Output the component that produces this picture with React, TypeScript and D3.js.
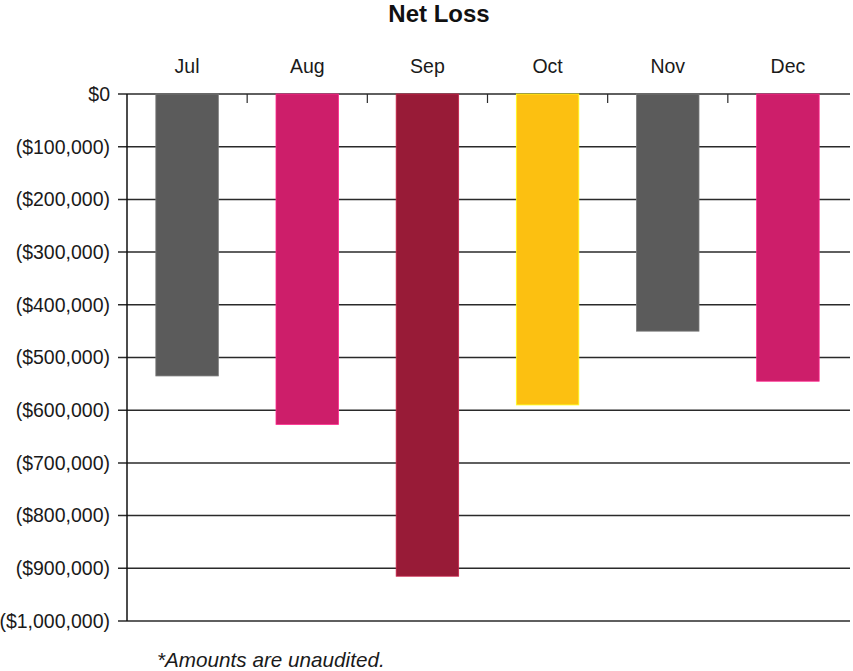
import React from "react";
import * as d3 from "d3";

const months = ["Jul", "Aug", "Sep", "Oct", "Nov", "Dec"];
const netLoss = [-535000, -627000, -915000, -590000, -450000, -545000];
const barColors = ["#5b5b5b", "#cd1e6a", "#981b37", "#fcc011", "#5b5b5b", "#cd1e6a"];
const yTicks = [0, -100000, -200000, -300000, -400000, -500000, -600000, -700000, -800000, -900000, -1000000];
const title = "Net Loss";
const footnote = "*Amounts are unaudited.";

const W = 853;
const H = 671;
const left = 127;
const right = 848;
const top = 94;
const bottom = 621;

function fmt(v: number): string {
  if (v === 0) return "$0";
  return "($" + d3.format(",")(Math.abs(v)) + ")";
}

export default function App() {
  const x = d3.scaleBand<string>().domain(months).range([left, right]).paddingInner(0.48).paddingOuter(0.24);
  const xb = d3.scaleBand<string>().domain(months).range([left, right]);
  const y = d3.scaleLinear().domain([0, -1000000]).range([top, bottom]);
  const font = "'Liberation Sans', Arial, Helvetica, sans-serif";
  return (
    <svg width={W} height={H} style={{ position: "absolute", left: 0, top: 0, background: "#fff" }} fontFamily={font}>
      <text x={439} y={22} textAnchor="middle" fontWeight="bold" fontSize={24} fill="#111">{title}</text>
      {yTicks.map((t) => (
        <g key={t}>
          <line x1={118} x2={right + 2} y1={y(t)} y2={y(t)} stroke="#2a2a2a" strokeWidth={1.5} />
          <text x={110} y={y(t)} dy="0.35em" textAnchor="end" fontSize={19.5} fill="#1a1a1a">{fmt(t)}</text>
        </g>
      ))}
      {months.map((m, i) => (
        <g key={m}>
          {i > 0 && <line x1={xb(m)!} x2={xb(m)!} y1={top} y2={top + 9} stroke="#2a2a2a" strokeWidth={1.2} />}
          <text x={x(m)! + x.bandwidth() / 2} y={73} textAnchor="middle" fontSize={19.5} fill="#1a1a1a">{m}</text>
          <rect
            x={x(m)!}
            y={y(0)}
            width={x.bandwidth()}
            height={y(netLoss[i]) - y(0)}
            fill={barColors[i]}
            stroke={d3.color(barColors[i])!.brighter(0.8).formatHex()}
            strokeWidth={0.8}
          />
        </g>
      ))}
      <line x1={left} x2={left} y1={top} y2={bottom} stroke="#111" strokeWidth={1.5} />
      <text x={157} y={667} fontStyle="italic" fontSize={20.7} fill="#1a1a1a">{footnote}</text>
    </svg>
  );
}
